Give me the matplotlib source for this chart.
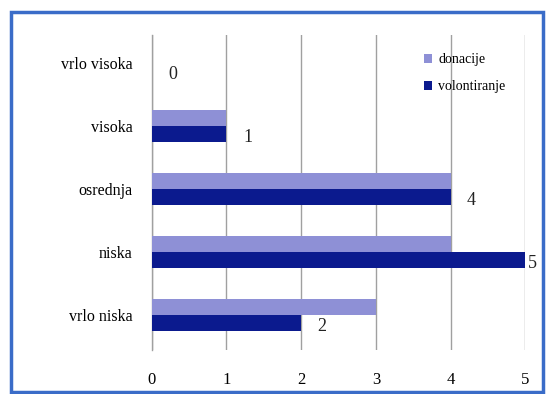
import matplotlib
matplotlib.use("Agg")
import matplotlib.pyplot as plt
import numpy as np
from matplotlib.patches import Rectangle

# Categories listed bottom to top
categories = ["vrlo niska", "niska", "osrednja", "visoka", "vrlo visoka"]
donacije = [3, 4, 4, 1, 0]
volontiranje = [2, 5, 4, 1, 0]
x_ticks = [0, 1, 2, 3, 4, 5]

plt.rcParams["font.family"] = ["Liberation Serif", "DejaVu Serif"]

fig = plt.figure(figsize=(5.46, 3.94), dpi=100)
ax = fig.add_axes([0.278, 0.112, 0.684, 0.80])

y = np.arange(len(categories))
h = 0.25

ax.barh(y + h / 2, donacije, height=h, color="#8e90d6", label="donacije", zorder=3)
ax.barh(y - h / 2, volontiranje, height=h, color="#0b1a8e", label="volontiranje", zorder=3)

# value labels for volontiranje, kept inside the frame at the right edge
for yi, v in zip(y, volontiranje):
    ax.text(min(v + 0.22, 5.04), yi - h / 2 - 0.05, str(v), va="center", ha="left",
            fontsize=13, color="#222222", zorder=4, clip_on=False)

ax.set_xlim(0, 5)
ax.set_ylim(-0.55, 4.45)
ax.set_xticks(x_ticks)
ax.set_yticks(y)
ax.set_yticklabels(categories, fontsize=11.5)
ax.tick_params(axis="x", labelsize=12, length=0, pad=16)
ax.tick_params(axis="y", length=0, pad=14)

ax.grid(axis="x", color="#a0a0a0", linewidth=1.0, zorder=0)
for s in ["top", "right", "bottom"]:
    ax.spines[s].set_visible(False)
ax.spines["left"].set_color("#a0a0a0")
ax.spines["left"].set_linewidth(1.0)

ax.legend(loc="upper right", bbox_to_anchor=(0.98, 0.98), frameon=False,
          fontsize=10, handlelength=0.6, handleheight=0.6, handletextpad=0.4,
          labelspacing=1.0)

# outer blue frame
fig.patches.append(Rectangle((0.02, 0.005), 0.975, 0.965, transform=fig.transFigure,
                             fill=False, edgecolor="#3a6cc8", linewidth=2.5))

fig.savefig("out.png", dpi=100)
